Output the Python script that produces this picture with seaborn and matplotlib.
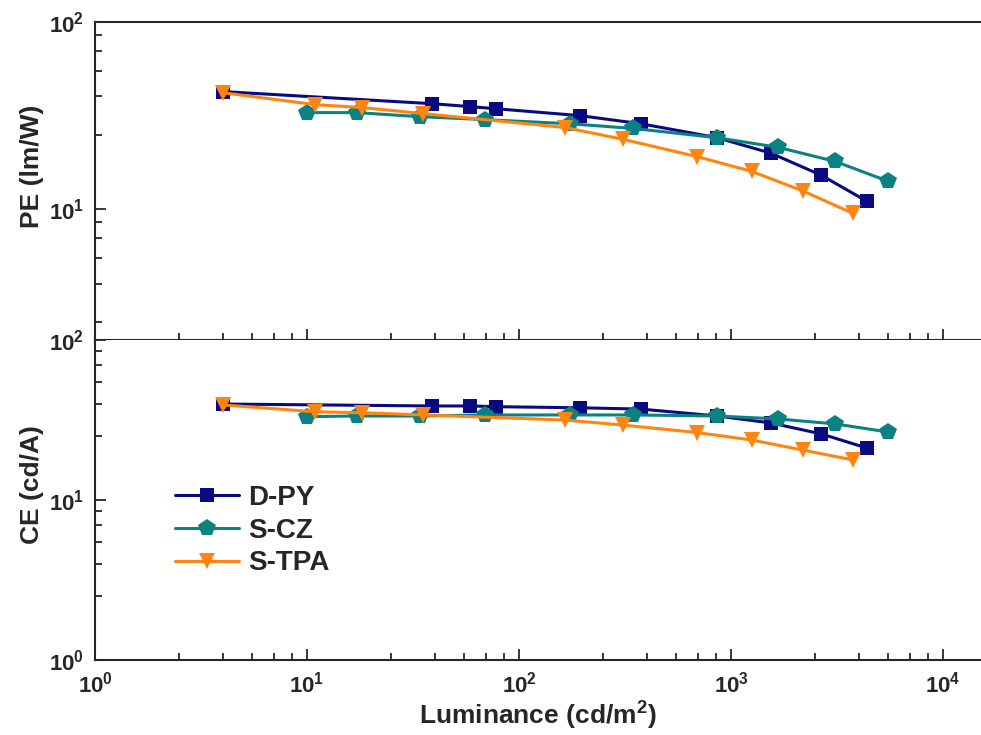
import numpy as np
import pandas as pd
import matplotlib
matplotlib.use("Agg")
import matplotlib.pyplot as plt
from matplotlib.ticker import LogLocator, LogFormatterSciNotation, NullFormatter
import seaborn as sns

# ---------------- data ----------------
series_names = ["D-PY", "S-CZ", "S-TPA"]

dpy_lum = [4.0, 39, 59, 78, 194, 376, 859, 1545, 2660, 4385]
dpy_pe = [42.5, 36.6, 35.3, 34.4, 31.6, 28.6, 24.1, 19.9, 15.2, 11.0]
dpy_ce = [39.8, 38.7, 38.7, 38.3, 37.7, 37.0, 33.5, 30.3, 25.9, 21.1]

scz_lum = [10, 17.2, 34.1, 69, 174, 345, 859, 1667, 3095, 5505]
scz_pe = [32.8, 32.8, 31.2, 30.1, 28.6, 27.0, 24.1, 21.4, 18.0, 14.1]
scz_ce = [33.2, 33.5, 33.5, 34.0, 34.0, 34.0, 33.5, 32.1, 29.9, 26.6]

stpa_lum = [4.0, 10.9, 18.2, 35.3, 165, 310, 691, 1256, 2186, 3761]
stpa_pe = [41.9, 36.2, 34.9, 32.4, 27.3, 23.6, 19.1, 15.9, 12.5, 9.5]
stpa_ce = [39.3, 35.6, 35.1, 34.0, 31.6, 29.4, 26.4, 23.7, 20.5, 17.8]

colors = {"D-PY": "#0a0a80", "S-CZ": "#0a8282", "S-TPA": "#ff8410"}
markers = {"D-PY": "s", "S-CZ": "p", "S-TPA": "v"}
marker_sizes = {"s": 9.5, "p": 13, "v": 11.5}

frames = []
for name, lum, pe, ce in [("D-PY", dpy_lum, dpy_pe, dpy_ce),
                          ("S-CZ", scz_lum, scz_pe, scz_ce),
                          ("S-TPA", stpa_lum, stpa_pe, stpa_ce)]:
    frames.append(pd.DataFrame({"Luminance": lum, "PE": pe, "CE": ce,
                                "Device": name}))
df = pd.concat(frames, ignore_index=True)

# ---------------- style ----------------
sns.set_style("ticks")
plt.rcParams["font.family"] = ["Liberation Sans", "DejaVu Sans"]
plt.rcParams["font.weight"] = "bold"
plt.rcParams["mathtext.fontset"] = "custom"
for k in ["rm", "it", "bf", "sf"]:
    plt.rcParams["mathtext." + k] = "Liberation Sans:bold"
plt.rcParams["axes.linewidth"] = 1.5

fig = plt.figure(figsize=(9.81, 7.35), dpi=100)
left = 95 / 981
width = 1 - left
ax1 = fig.add_axes([left, 1 - 340 / 735, width, 318 / 735])
ax2 = fig.add_axes([left, 1 - 660 / 735, width, 320 / 735], sharex=ax1)

for ax in (ax1, ax2):
    ax.set_xscale("log")
    ax.set_yscale("log")

line_kws = dict(sort=False, markers=markers, dashes=False, palette=colors,
                hue_order=series_names, linewidth=2.2, markersize=11,
                markeredgewidth=0, estimator=None)
sns.lineplot(data=df, x="Luminance", y="PE", hue="Device", style="Device",
             style_order=series_names, ax=ax1, legend=False, **line_kws)
sns.lineplot(data=df, x="Luminance", y="CE", hue="Device", style="Device",
             style_order=series_names, ax=ax2, legend=False, **line_kws)

for ax in (ax1, ax2):
    for ln in ax.get_lines():
        m = ln.get_marker()
        if m in marker_sizes:
            ln.set_markersize(marker_sizes[m])

ax1.set_xlim(1, 15100)
ax1.set_ylim(2, 100)
ax2.set_ylim(1, 100)

minor_subs = [2.5, 4.0, 5.5, 7.0, 8.5]
fmt = LogFormatterSciNotation()
for ax in (ax1, ax2):
    ax.xaxis.set_major_locator(LogLocator(base=10, numticks=10))
    ax.xaxis.set_minor_locator(LogLocator(base=10, subs=minor_subs, numticks=20))
    ax.yaxis.set_major_locator(LogLocator(base=10, numticks=10))
    ax.yaxis.set_minor_locator(LogLocator(base=10, subs=minor_subs, numticks=20))
    ax.yaxis.set_minor_formatter(NullFormatter())
    ax.xaxis.set_minor_formatter(NullFormatter())
    ax.yaxis.set_major_formatter(fmt)
    ax.tick_params(which="both", direction="in", width=1.3, labelsize=16,
                   top=False, right=False, pad=8)
    ax.tick_params(which="major", length=8)
    ax.tick_params(which="minor", length=5)
    ax.spines["right"].set_visible(False)
    ax.spines["top"].set_visible(True)

ax1.tick_params(axis="x", labelbottom=False)
ax2.spines["top"].set_visible(False)
ax2.xaxis.set_major_formatter(fmt)

ax1.set_xlabel("")
ax1.set_ylabel("PE (lm/W)", fontsize=19, fontweight="bold")
ax2.set_ylabel("CE (cd/A)", fontsize=19, fontweight="bold")
ax2.set_xlabel(r"Luminance (cd/m$^{2}$)", fontsize=19, fontweight="bold",
               labelpad=2)
ax1.yaxis.set_label_coords(-0.058, 0.547)
ax2.yaxis.set_label_coords(-0.058, 0.547)

handles = ax2.get_lines()[:3]
leg = ax2.legend(handles=handles, labels=series_names, loc="upper left",
                 bbox_to_anchor=(80 / 886, (660 - 485) / 320),
                 frameon=False, fontsize=20, handlelength=2.3,
                 handletextpad=0.32, labelspacing=0.24, borderpad=0,
                 borderaxespad=0, numpoints=1)
for t in leg.get_texts():
    t.set_fontweight("bold")

fig.savefig("out.png", dpi=100)
